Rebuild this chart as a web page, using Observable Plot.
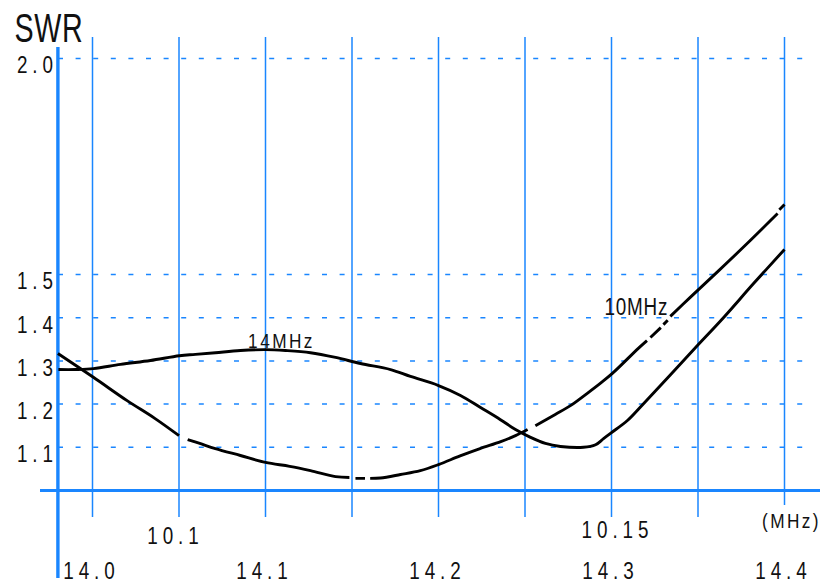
<!DOCTYPE html>
<html>
<head>
<meta charset="utf-8">
<script src="https://cdn.jsdelivr.net/npm/d3@7"></script>
<script src="https://cdn.jsdelivr.net/npm/@observablehq/plot@0.6"></script>
<style>
  html, body { margin: 0; padding: 0; background: #fff; }
  #chart svg { display: block; }
  #chart svg text { font-family: "Liberation Sans", Arial, sans-serif; }
</style>
</head>
<body>
<div id="chart"></div>
<script>
// ---- data ----
// 14 MHz band curve: frequency (MHz) and SWR
const freq14 = [13.9803, 13.9902, 14.0006, 14.0162, 14.0335, 14.0503, 14.0595, 14.0711, 14.0855, 14.1000,
                14.1116, 14.1260, 14.1405, 14.1549, 14.1723, 14.1838, 14.2000, 14.2127, 14.2243, 14.2358,
                14.2445, 14.2532, 14.2618, 14.2705, 14.2838, 14.2908, 14.2954, 14.3000, 14.3092, 14.3185,
                14.3341, 14.3486, 14.3647, 14.3821, 14.4000];
const swr14 = [1.280, 1.280, 1.282, 1.292, 1.301, 1.312, 1.315, 1.319, 1.324, 1.326,
               1.324, 1.319, 1.308, 1.294, 1.280, 1.264, 1.243, 1.220, 1.192, 1.164,
               1.141, 1.123, 1.109, 1.102, 1.100, 1.106, 1.120, 1.134, 1.162, 1.201,
               1.268, 1.331, 1.400, 1.479, 1.558];

// 10 MHz band curve (drawn with breaks: NaN marks a gap in the pen stroke)
const freq10 = [10.0860, 10.0901, 10.0940, 10.0972, 10.1000, NaN,
                10.1010, 10.1024, 10.1042, 10.1071, 10.1100, 10.1128, 10.1152, 10.1181, 10.1197, NaN,
                10.1204, 10.1215, NaN,
                10.1221, 10.1233, 10.1256, 10.1279, 10.1300, 10.1325, 10.1348, 10.1372, 10.1389, 10.1403, NaN,
                10.1412, 10.1435, 10.1453, 10.1472, 10.1487, 10.1501, 10.1531, 10.1541, NaN,
                10.1545, 10.1557, NaN,
                10.1560, 10.1565, NaN,
                10.1568, 10.1591, 10.1624, 10.1658, 10.1692, NaN,
                10.1694, 10.1700];
const swr10 = [1.317, 1.262, 1.208, 1.167, 1.127, NaN,
               1.118, 1.109, 1.097, 1.081, 1.065, 1.056, 1.046, 1.032, 1.030, NaN,
               1.028, 1.028, NaN,
               1.028, 1.029, 1.037, 1.046, 1.060, 1.080, 1.097, 1.113, 1.127, 1.141, NaN,
               1.150, 1.176, 1.197, 1.225, 1.248, 1.271, 1.329, 1.347, NaN,
               1.354, 1.377, NaN,
               1.384, 1.394, NaN,
               1.403, 1.447, 1.509, 1.574, 1.641, NaN,
               1.650, 1.662];

// axis ticks and labels
const gridFreq14 = [14.0, 14.05, 14.1, 14.15, 14.2, 14.25, 14.3, 14.35, 14.4];
const labels14 = ["14.0", "14.1", "14.2", "14.3", "14.4"];
const labels10 = ["10.1", "10.15"];
const swrTicks = [2.0, 1.5, 1.4, 1.3, 1.2, 1.1];
const curveNames = ["14MHz", "10MHz"];
const unitLabel = "(MHz)";
const titleLabel = "SWR";

// ---- build ----
const blue = "#1a86ff";
const ink = "#111";
const font = "Liberation Sans, Arial, sans-serif";
// the 10 MHz scale shares the sheet: 10.1 MHz sits on the 14.05 line, 10.15 MHz on the 14.30 line
const tenToX = f => 14.05 + (f - 10.1) * 5;

const data14 = freq14.map((f, i) => ({x: f, swr: swr14[i]}));
const data10 = freq10.map((f, i) => ({x: isNaN(f) ? NaN : tenToX(f), swr: swr10[i]}));
const peak14 = data14.filter(d => d.x < 14.2).reduce((a, b) => (b.swr > a.swr ? b : a));
const anchor10 = data10.find(d => Math.abs(d.x - tenToX(10.1568)) < 1e-6);
const originX = 13.98;

const txt = (data, opts) => Plot.text(data, {fontFamily: font, fill: ink, lineAnchor: "middle", ...opts});

const chart = Plot.plot({
  width: 820,
  height: 584,
  margin: 0,
  x: {domain: [14.0, 14.4], range: [92, 784], axis: null},
  y: {domain: [1.0, 2.0], range: [490, 58], axis: null},
  style: {background: "#fff", fontFamily: font, color: ink},
  marks: [
    // horizontal dashed grid
    Plot.ruleY(swrTicks, {stroke: blue, strokeWidth: 1.5, strokeDasharray: "5,12.6", insetLeft: 58, insetRight: 8}),
    // vertical grid lines (they run on below the baseline as ticks)
    Plot.ruleX(gridFreq14.slice(0, -1), {stroke: blue, strokeWidth: 1.5, insetTop: 37, insetBottom: 67}),
    Plot.ruleX(gridFreq14.slice(-1), {stroke: blue, strokeWidth: 1.5, insetTop: 37, insetBottom: 79}),
    // baseline SWR 1.0 and vertical axis
    Plot.ruleY([1.0], {stroke: blue, strokeWidth: 3.2, insetLeft: 40}),
    Plot.ruleX([originX], {stroke: blue, strokeWidth: 3.4, insetTop: 47, insetBottom: 6}),
    // curves
    Plot.line(data14, {x: "x", y: "swr", stroke: "#000", strokeWidth: 2.9, curve: "catmull-rom", strokeLinecap: "butt"}),
    Plot.line(data10, {x: "x", y: "swr", stroke: "#000", strokeWidth: 2.9, curve: "catmull-rom", strokeLinecap: "butt"}),
    // SWR tick labels
    txt(swrTicks, {x: () => originX, y: d => d, text: d => d3.format(".1f")(d), textAnchor: "end", dy: 7.5, fontSize: 23}),
    // 14 MHz labels
    txt(labels14, {x: d => +d, text: d => d, frameAnchor: "bottom", dy: -13, dx: -1, fontSize: 23}),
    // 10 MHz labels
    txt(labels10.slice(0, 1), {x: d => tenToX(+d), text: d => d, frameAnchor: "bottom", dy: -48, dx: -3.5, fontSize: 23}),
    txt(labels10.slice(1), {x: d => tenToX(+d), text: d => d, frameAnchor: "bottom", dy: -54, dx: 6, fontSize: 23}),
    // unit
    txt([unitLabel], {x: () => 14.4, text: d => d, frameAnchor: "bottom", dy: -63.5, dx: 7, fontSize: 21}),
    // title
    txt([titleLabel], {text: d => d, frameAnchor: "top-left", textAnchor: "start", dx: 14, dy: 28, fontSize: 41}),
    // curve labels
    txt([peak14], {x: "x", y: "swr", text: () => curveNames[0], dx: 16, dy: -8, fontSize: 21}),
    txt([anchor10], {x: "x", y: "swr", text: () => curveNames[1], dx: -34, dy: -9, fontSize: 23})
  ]
});

// condensed, letter-spaced lettering of the original drawing
const spacing = new Map([[titleLabel, 1], [unitLabel, 3], [curveNames[0], 3], [curveNames[1], 1]]);
d3.select(chart).selectAll("text").each(function() {
  const t = d3.select(this);
  const s = t.text();
  const ls = spacing.has(s) ? spacing.get(s) : 6;
  const sx = s === titleLabel ? 0.7 : 0.82;
  t.style("letter-spacing", ls + "px");
  const tr = t.attr("transform") || "";
  t.attr("transform", tr + ` scale(${sx},1)`);
});
document.getElementById("chart").appendChild(chart);
</script>
</body>
</html>
